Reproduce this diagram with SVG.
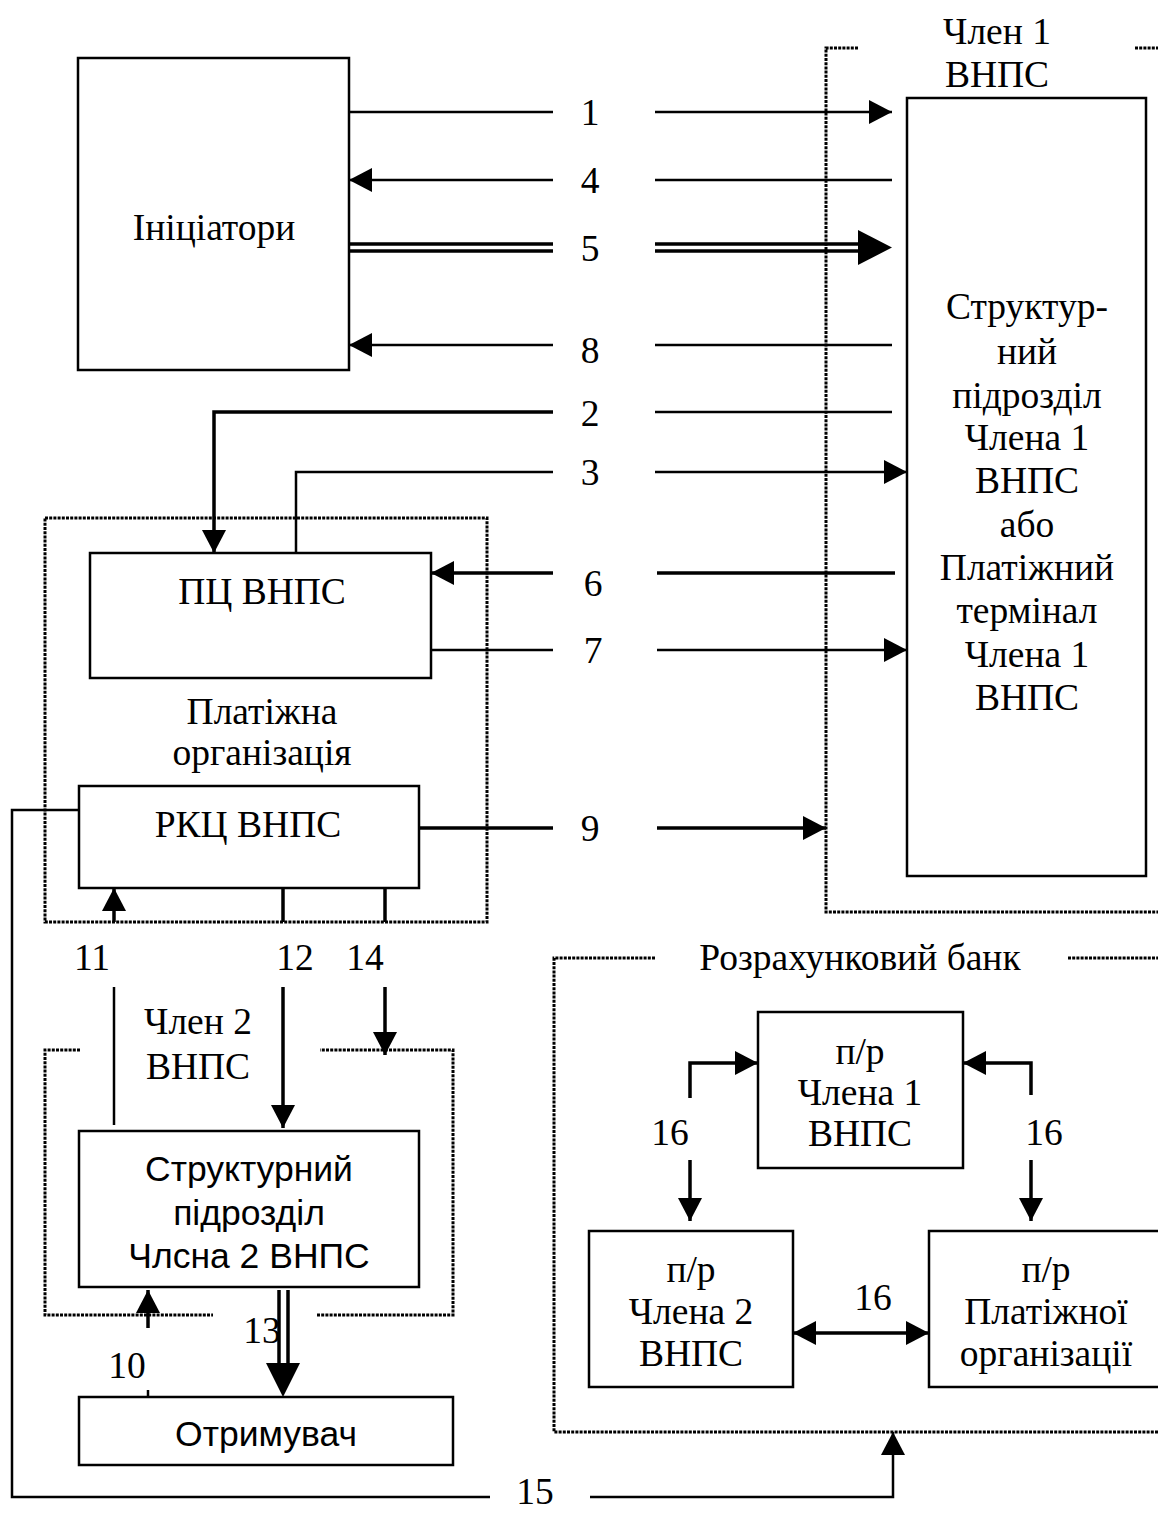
<svg xmlns="http://www.w3.org/2000/svg" width="1158" height="1513" viewBox="0 0 1158 1513">
<style>
.bg{fill:#fff}
.box{fill:#fff;stroke:#000;stroke-width:2.5}
.ln{fill:none;stroke:#000;stroke-width:2.5}
.th{fill:none;stroke:#000;stroke-width:3.5}
.dot{fill:none;stroke:#000;stroke-width:3;stroke-dasharray:3 1.2}
.t{font-family:"Liberation Serif","Times New Roman",serif;font-size:37.5px;fill:#000;text-anchor:middle}
.s{font-family:"Liberation Sans",Arial,sans-serif;font-size:35.5px;fill:#000;text-anchor:middle}
.head{fill:#000}
</style>
<defs>
<marker id="a" markerUnits="userSpaceOnUse" markerWidth="23" markerHeight="24" refX="23" refY="12" orient="auto-start-reverse"><path d="M0,0 L23,12 L0,24 z" fill="#000"/></marker>
</defs>
<rect class="bg" x="0" y="0" width="1158" height="1513"/>

<g id="boundaries">
<path class="dot" d="M858,48 H826 V912 H1158"/>
<path class="dot" d="M1135,48 H1158"/>
<rect class="dot" x="45" y="518" width="442" height="404"/>
<path class="dot" d="M80,1050 H45 V1315 H213"/>
<path class="dot" d="M317,1315 H453 V1050 H320"/>
<path class="dot" d="M655,958 H554 V1432 H1158"/>
<path class="dot" d="M1068,958 H1158"/>
</g>

<g id="group-labels">
<text class="t" x="997" y="44">Член 1</text>
<text class="t" x="997" y="87">ВНПС</text>
<text class="t" x="262" y="724">Платіжна</text>
<text class="t" x="262" y="765">організація</text>
<text class="t" x="198" y="1034">Член 2</text>
<text class="t" x="198" y="1079">ВНПС</text>
<text class="t" x="860" y="970">Розрахунковий банк</text>
</g>

<g id="connectors">
<line class="ln" x1="349" y1="112" x2="553" y2="112"/>
<line class="ln" x1="655" y1="112" x2="892" y2="112" marker-end="url(#a)"/>
<line class="ln" x1="892" y1="180" x2="655" y2="180"/>
<line class="ln" x1="553" y1="180" x2="349" y2="180" marker-end="url(#a)"/>
<line class="th" x1="349" y1="244" x2="553" y2="244"/>
<line class="th" x1="349" y1="251" x2="553" y2="251"/>
<line class="th" x1="655" y1="244" x2="862" y2="244"/>
<line class="th" x1="655" y1="251" x2="862" y2="251"/>
<path class="head" d="M858,230 L892,247.5 L858,265 z"/>
<line class="ln" x1="892" y1="345" x2="655" y2="345"/>
<line class="ln" x1="553" y1="345" x2="349" y2="345" marker-end="url(#a)"/>
<line class="ln" x1="892" y1="412" x2="655" y2="412"/>
<path class="th" d="M553,412 H214 V553" marker-end="url(#a)"/>
<path class="ln" d="M296,553 V472 H553"/>
<line class="ln" x1="655" y1="472" x2="907" y2="472" marker-end="url(#a)"/>
<line class="th" x1="895" y1="573" x2="657" y2="573"/>
<line class="th" x1="553" y1="573" x2="431" y2="573" marker-end="url(#a)"/>
<line class="ln" x1="431" y1="650" x2="553" y2="650"/>
<line class="ln" x1="657" y1="650" x2="907" y2="650" marker-end="url(#a)"/>
<line class="th" x1="419" y1="828" x2="553" y2="828"/>
<line class="th" x1="657" y1="828" x2="826" y2="828" marker-end="url(#a)"/>
<line class="th" x1="114" y1="922" x2="114" y2="888" marker-end="url(#a)"/>
<line class="ln" x1="114" y1="987" x2="114" y2="1125"/>
<line class="th" x1="283" y1="888" x2="283" y2="922"/>
<line class="th" x1="283" y1="987" x2="283" y2="1128" marker-end="url(#a)"/>
<line class="th" x1="385" y1="888" x2="385" y2="922"/>
<line class="th" x1="385" y1="987" x2="385" y2="1055" marker-end="url(#a)"/>
<line class="th" x1="148" y1="1328" x2="148" y2="1290" marker-end="url(#a)"/>
<line class="ln" x1="148" y1="1390" x2="148" y2="1397"/>
<line class="th" x1="279" y1="1290" x2="279" y2="1368"/>
<line class="th" x1="288" y1="1290" x2="288" y2="1368"/>
<path class="head" d="M266,1363 L300,1363 L283,1397 z"/>
<path class="ln" d="M79,810 H12 V1497 H490"/>
<path class="ln" d="M590,1497 H893 V1432" marker-end="url(#a)"/>
<path class="th" d="M690,1098 V1063 H758" marker-end="url(#a)"/>
<line class="th" x1="690" y1="1160" x2="690" y2="1221" marker-end="url(#a)"/>
<path class="th" d="M1031,1095 V1063 H963" marker-end="url(#a)"/>
<line class="th" x1="1031" y1="1160" x2="1031" y2="1221" marker-end="url(#a)"/>
<line class="th" x1="793" y1="1333" x2="929" y2="1333" marker-start="url(#a)" marker-end="url(#a)"/>
</g>

<g id="connector-labels">
<text class="t" x="590" y="125">1</text>
<text class="t" x="590" y="193">4</text>
<text class="t" x="590" y="261">5</text>
<text class="t" x="590" y="363">8</text>
<text class="t" x="590" y="426">2</text>
<text class="t" x="590" y="485">3</text>
<text class="t" x="593" y="596">6</text>
<text class="t" x="593" y="663">7</text>
<text class="t" x="590" y="841">9</text>
<text class="t" x="92" y="970">11</text>
<text class="t" x="295" y="970">12</text>
<text class="t" x="365" y="970">14</text>
<text class="t" x="127" y="1378">10</text>
<text class="t" x="262" y="1343">13</text>
<text class="t" x="535" y="1504">15</text>
<text class="t" x="670" y="1145">16</text>
<text class="t" x="1044" y="1145">16</text>
<text class="t" x="873" y="1310">16</text>
</g>

<g id="initiators">
<rect class="box" x="78" y="58" width="271" height="312"/>
<text class="t" x="214" y="240">Ініціатори</text>
</g>

<g id="member1-unit">
<rect class="box" x="907" y="98" width="239" height="778"/>
<text class="t" x="1027" y="319">Структур-</text>
<text class="t" x="1027" y="364">ний</text>
<text class="t" x="1027" y="408">підрозділ</text>
<text class="t" x="1027" y="450">Члена 1</text>
<text class="t" x="1027" y="493">ВНПС</text>
<text class="t" x="1027" y="537">або</text>
<text class="t" x="1027" y="580">Платіжний</text>
<text class="t" x="1027" y="623">термінал</text>
<text class="t" x="1027" y="667">Члена 1</text>
<text class="t" x="1027" y="710">ВНПС</text>
</g>

<g id="pc">
<rect class="box" x="90" y="553" width="341" height="125"/>
<text class="t" x="262" y="604">ПЦ ВНПС</text>
</g>

<g id="rkc">
<rect class="box" x="79" y="786" width="340" height="102"/>
<text class="t" x="248" y="837">РКЦ ВНПС</text>
</g>

<g id="member2-unit">
<rect class="box" x="79" y="1131" width="340" height="156"/>
<text class="s" x="249" y="1181">Структурний</text>
<text class="s" x="249" y="1225">підрозділ</text>
<text class="s" x="249" y="1268">Члсна 2 ВНПС</text>
</g>

<g id="recipient">
<rect class="box" x="79" y="1397" width="374" height="68"/>
<text class="s" x="266" y="1446">Отримувач</text>
</g>

<g id="acc-member1">
<rect class="box" x="758" y="1012" width="205" height="156"/>
<text class="t" x="860" y="1064">п/р</text>
<text class="t" x="860" y="1105">Члена 1</text>
<text class="t" x="860" y="1146">ВНПС</text>
</g>

<g id="acc-member2">
<rect class="box" x="589" y="1231" width="204" height="156"/>
<text class="t" x="691" y="1282">п/р</text>
<text class="t" x="691" y="1324">Члена 2</text>
<text class="t" x="691" y="1366">ВНПС</text>
</g>

<g id="acc-payorg">
<rect class="box" x="929" y="1231" width="240" height="156"/>
<text class="t" x="1046" y="1282">п/р</text>
<text class="t" x="1046" y="1324">Платіжної</text>
<text class="t" x="1046" y="1366">організації</text>
</g>
</svg>
